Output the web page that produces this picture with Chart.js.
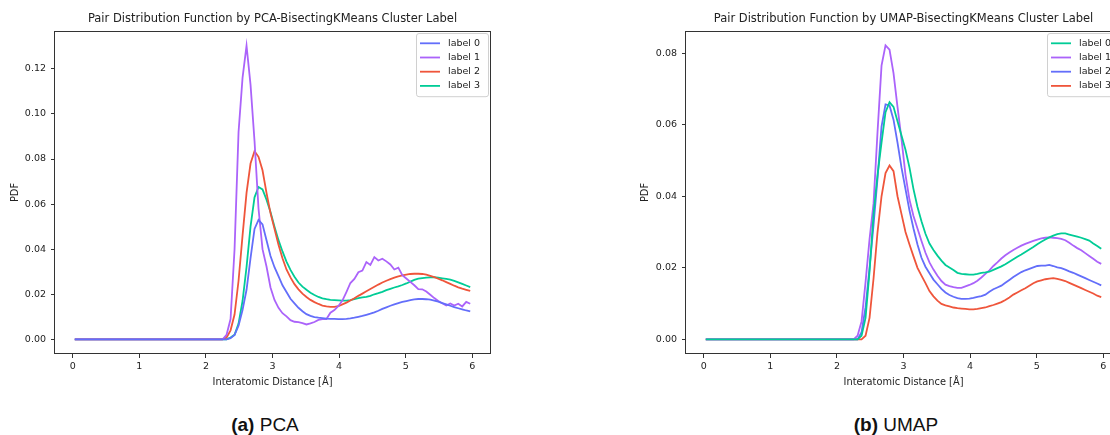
<!DOCTYPE html>
<html>
<head>
<meta charset="utf-8">
<script src="https://cdn.jsdelivr.net/npm/chart.js@4.4.1/dist/chart.umd.min.js"></script>
<style>
  html, body { margin: 0; padding: 0; background: #fff; overflow: hidden; }
  body { width: 1110px; height: 435px; position: relative; }
  .panel { position: absolute; top: 0; height: 400px; }
  #pca-wrap { left: 0; width: 555px; }
  #umap-wrap { left: 630px; width: 500px; }
  .caption {
    position: absolute; top: 414px; line-height: 22px;
    font-family: "Liberation Sans", Arial, sans-serif; font-size: 19px; color: #111;
    transform: translateX(-50%); white-space: nowrap;
  }
</style>
</head>
<body>
<div class="panel" id="pca-wrap"><canvas id="pca"></canvas></div>
<div class="panel" id="umap-wrap"><canvas id="umap"></canvas></div>
<div class="caption" style="left:265px"><b>(a)</b> PCA</div>
<div class="caption" style="left:896px"><b>(b)</b> UMAP</div>
<script>
// bin centres [Å]
var distance = [0.03, 2.25, 2.31, 2.37, 2.43, 2.49, 2.55, 2.61, 2.67, 2.73,
  2.79, 2.85, 2.91, 2.97, 3.03, 3.09, 3.15, 3.21, 3.27, 3.33,
  3.39, 3.45, 3.51, 3.57, 3.63, 3.69, 3.75, 3.81, 3.87, 3.93,
  3.99, 4.05, 4.11, 4.17, 4.23, 4.29, 4.35, 4.41, 4.47, 4.53,
  4.59, 4.65, 4.71, 4.77, 4.83, 4.89, 4.95, 5.01, 5.07, 5.13,
  5.19, 5.25, 5.31, 5.37, 5.43, 5.49, 5.55, 5.61, 5.67, 5.73,
  5.79, 5.85, 5.91, 5.97];

var xTicks = [0, 1, 2, 3, 4, 5, 6];
var pcaYTicks = [0, 0.02, 0.04, 0.06, 0.08, 0.10, 0.12];
var umapYTicks = [0, 0.02, 0.04, 0.06, 0.08];
var labelNames = ['label 0', 'label 1', 'label 2', 'label 3'];

// PCA clusters
var pcaLabel0 = [0, 0, 0, 0.0005, 0.002, 0.006, 0.013, 0.022, 0.036, 0.049,
  0.053, 0.051, 0.044, 0.037, 0.032, 0.028, 0.024, 0.021, 0.018, 0.016,
  0.014, 0.0125, 0.0112, 0.0104, 0.0099, 0.0096, 0.0094, 0.0092, 0.0091, 0.0091,
  0.0090, 0.0090, 0.0091, 0.0093, 0.0096, 0.0100, 0.0104, 0.0109, 0.0114, 0.0120,
  0.0127, 0.0135, 0.0142, 0.0149, 0.0155, 0.0161, 0.0166, 0.0170, 0.0174, 0.0177,
  0.0179, 0.0179, 0.0178, 0.0176, 0.0172, 0.0167, 0.0161, 0.0155, 0.0149, 0.0143,
  0.0138, 0.0133, 0.0128, 0.0124];
var pcaLabel1 = [0, 0, 0.002, 0.009, 0.040, 0.092, 0.116, 0.1303, 0.113, 0.088,
  0.058, 0.040, 0.0323, 0.023, 0.0175, 0.014, 0.0116, 0.0102, 0.0085, 0.0078,
  0.0076, 0.0072, 0.0066, 0.0071, 0.0077, 0.0086, 0.0090, 0.0090, 0.0118, 0.0130,
  0.0148, 0.0172, 0.0210, 0.0250, 0.0268, 0.0298, 0.0305, 0.0343, 0.0330, 0.0365,
  0.0350, 0.0358, 0.0346, 0.0332, 0.0310, 0.0318, 0.0285, 0.0270, 0.0255, 0.0240,
  0.0223, 0.0222, 0.0212, 0.0198, 0.0183, 0.0170, 0.0160, 0.0150, 0.0159, 0.0150,
  0.0158, 0.0146, 0.0166, 0.0158];
var pcaLabel2 = [0, 0, 0.0008, 0.004, 0.011, 0.026, 0.046, 0.065, 0.078, 0.0835,
  0.081, 0.075, 0.065, 0.056, 0.049, 0.042, 0.036, 0.031, 0.0275, 0.0245,
  0.0222, 0.0203, 0.0188, 0.0175, 0.0165, 0.0157, 0.0150, 0.0146, 0.0144, 0.0144,
  0.0147, 0.0155, 0.0163, 0.0172, 0.0182, 0.0193, 0.0203, 0.0213, 0.0223, 0.0233,
  0.0243, 0.0252, 0.0260, 0.0267, 0.0274, 0.0279, 0.0284, 0.0287, 0.0290, 0.0291,
  0.0291, 0.0290, 0.0287, 0.0282, 0.0276, 0.0269, 0.0262, 0.0254, 0.0246, 0.0238,
  0.0231, 0.0225, 0.0220, 0.0215];
var pcaLabel3 = [0, 0, 0, 0.0008, 0.002, 0.007, 0.017, 0.032, 0.050, 0.063,
  0.0676, 0.0665, 0.062, 0.0565, 0.050, 0.044, 0.039, 0.0345, 0.0308, 0.0278,
  0.0252, 0.0234, 0.0220, 0.0207, 0.0197, 0.0188, 0.0182, 0.0178, 0.0175, 0.0174,
  0.0173, 0.0172, 0.0172, 0.0174, 0.0178, 0.0183, 0.0186, 0.0188, 0.0193, 0.0200,
  0.0205, 0.0211, 0.0218, 0.0224, 0.0230, 0.0235, 0.0241, 0.0248, 0.0256, 0.0264,
  0.0269, 0.0272, 0.0274, 0.0275, 0.0276, 0.0274, 0.0271, 0.0268, 0.0265, 0.0259,
  0.0253, 0.0246, 0.0239, 0.0232];

// UMAP clusters
var umapLabel0 = [0, 0, 0, 0.001, 0.006, 0.019, 0.035, 0.046, 0.055, 0.0635,
  0.0663, 0.065, 0.061, 0.057, 0.053, 0.048, 0.042, 0.037, 0.033, 0.0295,
  0.0268, 0.0250, 0.0234, 0.0220, 0.0208, 0.0201, 0.0194, 0.0186, 0.0183, 0.0182,
  0.0181, 0.0181, 0.0183, 0.0186, 0.0187, 0.0189, 0.0194, 0.0199, 0.0204, 0.0210,
  0.0217, 0.0224, 0.0231, 0.0237, 0.0244, 0.0251, 0.0258, 0.0266, 0.0273, 0.0279,
  0.0285, 0.0290, 0.0294, 0.0296, 0.0296, 0.0293, 0.0290, 0.0287, 0.0284, 0.0280,
  0.0276, 0.0268, 0.0261, 0.0253];
var umapLabel1 = [0, 0, 0.001, 0.005, 0.016, 0.028, 0.038, 0.058, 0.0765, 0.0822,
  0.081, 0.0744, 0.065, 0.056, 0.046, 0.039, 0.0345, 0.031, 0.0275, 0.0242,
  0.0215, 0.0195, 0.0178, 0.0163, 0.0153, 0.0149, 0.0146, 0.0144, 0.0144, 0.0148,
  0.0152, 0.0157, 0.0164, 0.0173, 0.0183, 0.0193, 0.0205, 0.0215, 0.0226, 0.0235,
  0.0243, 0.0250, 0.0256, 0.0262, 0.0267, 0.0271, 0.0275, 0.0279, 0.0282, 0.0284,
  0.0285, 0.0284, 0.0283, 0.0281, 0.0277, 0.0270, 0.0262, 0.0255, 0.0249, 0.0241,
  0.0233, 0.0225, 0.0217, 0.0211];
var umapLabel2 = [0, 0, 0, 0.002, 0.009, 0.020, 0.032, 0.045, 0.0595, 0.0657,
  0.0654, 0.0614, 0.055, 0.048, 0.042, 0.036, 0.031, 0.0265, 0.0228, 0.0203,
  0.0185, 0.0167, 0.0154, 0.0141, 0.0131, 0.0124, 0.0119, 0.0115, 0.0113, 0.0113,
  0.0114, 0.0116, 0.0119, 0.0121, 0.0125, 0.0133, 0.0140, 0.0145, 0.0150, 0.0158,
  0.0166, 0.0174, 0.0181, 0.0188, 0.0193, 0.0197, 0.0201, 0.0205, 0.0206, 0.0206,
  0.0208, 0.0205, 0.0201, 0.0199, 0.0195, 0.0190, 0.0186, 0.0181, 0.0176, 0.0171,
  0.0166, 0.0161, 0.0156, 0.0151];
var umapLabel3 = [0, 0, 0, 0, 0.001, 0.006, 0.017, 0.030, 0.040, 0.0465,
  0.0486, 0.047, 0.040, 0.035, 0.030, 0.0265, 0.0232, 0.0200, 0.0178, 0.0157,
  0.0135, 0.0120, 0.0108, 0.0099, 0.0095, 0.0092, 0.0089, 0.0087, 0.0086, 0.0085,
  0.0084, 0.0084, 0.0085, 0.0087, 0.0089, 0.0093, 0.0096, 0.0100, 0.0104, 0.0110,
  0.0117, 0.0125, 0.0131, 0.0137, 0.0143, 0.0150, 0.0157, 0.0162, 0.0165, 0.0168,
  0.0170, 0.0171, 0.0169, 0.0166, 0.0163, 0.0158, 0.0153, 0.0148, 0.0143, 0.0138,
  0.0133, 0.0128, 0.0122, 0.0118];

var BLUE = '#636EFA', PURPLE = '#AB63FA', RED = '#EF553B', GREEN = '#00CC96';

Chart.defaults.font.family = '"DejaVu Sans", sans-serif';
Chart.defaults.color = '#222';

// matplotlib-style frame round the axes
var frame = {
    id: 'frame',
    afterDraw: function(chart) {
        var a = chart.chartArea, ctx = chart.ctx;
        ctx.save();
        ctx.strokeStyle = '#333';
        ctx.lineWidth = 1;
        ctx.strokeRect(Math.round(a.left) - 0.5, Math.round(a.top) + 0.5,
            Math.round(a.right - a.left) + 1, Math.round(a.bottom - a.top) - 1);
        ctx.restore();
    }
};

// legend box in the upper right corner of the plot
var boxLegend = {
    id: 'boxLegend',
    afterDraw: function(chart) {
        var ctx = chart.ctx, a = chart.chartArea, sets = chart.data.datasets;
        var w = 72, rowH = 14.2, h = sets.length * rowH + 6.4;
        var x0 = a.right - 2 - w, y0 = a.top + 2;
        ctx.save();
        ctx.beginPath();
        ctx.roundRect(x0 + 0.5, y0 + 0.5, w, h, 2.5);
        ctx.fillStyle = 'rgba(255,255,255,0.8)';
        ctx.fill();
        ctx.strokeStyle = '#d0d0d0';
        ctx.lineWidth = 1;
        ctx.stroke();
        ctx.font = '9.5px "DejaVu Sans"';
        ctx.textBaseline = 'middle';
        sets.forEach(function(ds, i) {
            var y = y0 + 3.2 + rowH * (i + 0.5);
            ctx.strokeStyle = ds.borderColor;
            ctx.lineWidth = 1.8;
            ctx.beginPath();
            ctx.moveTo(x0 + 4, y);
            ctx.lineTo(x0 + 24, y);
            ctx.stroke();
            ctx.fillStyle = '#222';
            ctx.fillText(ds.label, x0 + 32, y);
        });
        ctx.restore();
    }
};

function series(values, name, color) {
    return {
        label: name,
        data: distance.map(function(d, i) { return {x: d, y: values[i]}; }),
        borderColor: color,
        borderWidth: 1.8,
        pointRadius: 0,
        tension: 0,
        fill: false
    };
}

function pdfChart(id, title, datasets, yTicks, yMin, yMax, yWidth, rightPad) {
    return new Chart(document.getElementById(id), {
        type: 'line',
        data: {datasets: datasets},
        options: {
            responsive: true,
            maintainAspectRatio: false,
            animation: false,
            layout: {padding: {left: 0, top: 0, bottom: 0, right: rightPad}},
            plugins: {
                legend: {display: false},
                tooltip: {enabled: false},
                title: {
                    display: true,
                    text: title,
                    fullSize: false,
                    color: '#222',
                    font: {size: 11.5, weight: 'normal'},
                    padding: {top: 12.1, bottom: 5.1}
                }
            },
            scales: {
                x: {
                    type: 'linear',
                    min: -0.267,
                    max: 6.267,
                    afterBuildTicks: function(s) { s.ticks = xTicks.map(function(v) { return {value: v}; }); },
                    afterFit: function(s) { s.height = 46; },
                    grid: {drawOnChartArea: false, drawTicks: true, tickLength: 4, color: '#333'},
                    border: {display: false},
                    ticks: {autoSkip: false, maxRotation: 0, padding: 3, font: {size: 9.5}, color: '#222'},
                    title: {display: true, text: 'Interatomic Distance [Å]', font: {size: 9.8}, color: '#222',
                        padding: {top: 0, bottom: 11.8}}
                },
                y: {
                    min: yMin,
                    max: yMax,
                    afterBuildTicks: function(s) { s.ticks = yTicks.map(function(v) { return {value: v}; }); },
                    afterFit: function(s) { s.width = yWidth; },
                    grid: {drawOnChartArea: false, drawTicks: true, tickLength: 4, color: '#333'},
                    border: {display: false},
                    ticks: {
                        autoSkip: false, padding: 5, font: {size: 9.5}, color: '#222',
                        callback: function(v) { return v.toFixed(2); }
                    },
                    title: {display: true, text: 'PDF', font: {size: 9.8}, color: '#222',
                        padding: {top: 9.1, bottom: 0}}
                }
            }
        },
        plugins: [frame, boxLegend]
    });
}

pdfChart('pca', 'Pair Distribution Function by PCA-BisectingKMeans Cluster Label', [
    series(pcaLabel0, labelNames[0], BLUE),
    series(pcaLabel1, labelNames[1], PURPLE),
    series(pcaLabel2, labelNames[2], RED),
    series(pcaLabel3, labelNames[3], GREEN)
], pcaYTicks, -0.0065, 0.1368, 55, 65);

pdfChart('umap', 'Pair Distribution Function by UMAP-BisectingKMeans Cluster Label', [
    series(umapLabel0, labelNames[0], GREEN),
    series(umapLabel1, labelNames[1], PURPLE),
    series(umapLabel2, labelNames[2], BLUE),
    series(umapLabel3, labelNames[3], RED)
], umapYTicks, -0.0041, 0.0862, 56, 9);
</script>
</body>
</html>
